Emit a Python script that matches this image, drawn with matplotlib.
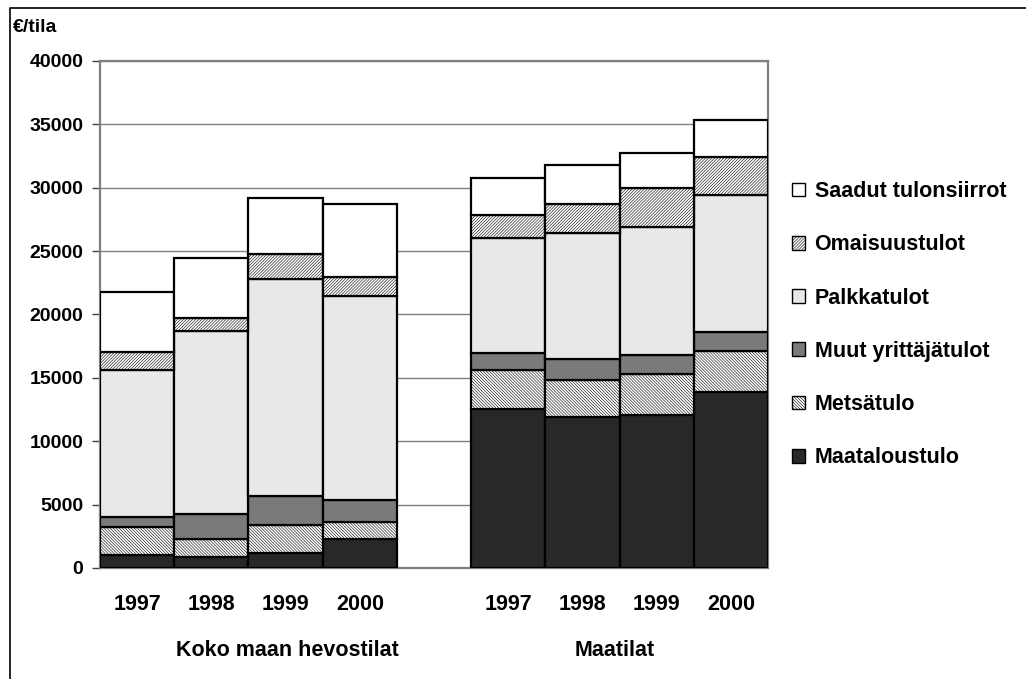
import matplotlib.pyplot as plt
import matplotlib.transforms as mtransforms
from matplotlib.lines import Line2D
from matplotlib.patches import Patch
import numpy as np

plt.rcParams.update(
    {
        "font.family": ["Liberation Sans", "DejaVu Sans"],
        "font.weight": "bold",
        "hatch.linewidth": 0.4,
        "hatch.color": "black",
    }
)

# Income components, EUR per farm, stacked bottom to top
years = ["1997", "1998", "1999", "2000"]
groups = ["Koko maan hevostilat", "Maatilat"]
series = [
    "Maataloustulo",
    "Metsätulo",
    "Muut yrittäjätulot",
    "Palkkatulot",
    "Omaisuustulot",
    "Saadut tulonsiirrot",
]
# hevostilat 1997..2000, then maatilat 1997..2000
maatalous = [1000, 840, 1160, 2290, 12540, 11940, 12070, 13860]
metsa = [2260, 1450, 2230, 1310, 3080, 2890, 3210, 3290]
muut = [790, 1950, 2320, 1770, 1320, 1660, 1530, 1450]
palkka = [11570, 14460, 17070, 16120, 9120, 9920, 10070, 10830]
omaisuus = [1450, 1050, 1970, 1490, 1790, 2290, 3080, 2970]
tulonsiirrot = [4730, 4680, 4420, 5740, 2950, 3100, 2810, 2950]

styles = [
    {"facecolor": "#282828", "hatch": None},
    {"facecolor": "white", "hatch": "\\" * 11},
    {"facecolor": "#7a7a7a", "hatch": None},
    {"facecolor": "#e8e8e8", "hatch": None},
    {"facecolor": "white", "hatch": "/" * 11},
    {"facecolor": "white", "hatch": None},
]

fig = plt.figure(figsize=(10.26, 6.79), dpi=100)
ax = fig.add_axes([0.0975, 0.1635, 0.651, 0.7467])

x = np.array([0, 1, 2, 3, 5, 6, 7, 8])
bottom = np.zeros(len(x))
handles = []
for values, label, st in zip(
    [maatalous, metsa, muut, palkka, omaisuus, tulonsiirrot], series, styles
):
    ax.bar(
        x,
        values,
        width=1.0,
        bottom=bottom,
        facecolor=st["facecolor"],
        hatch=st["hatch"],
        edgecolor="black",
        linewidth=1.6,
        zorder=3,
    )
    bottom += np.array(values)
    handles.append(
        Patch(facecolor=st["facecolor"], hatch=st["hatch"], edgecolor="black",
              linewidth=1.0, label=label)
    )

ax.set_xlim(-0.5, 8.5)
ax.set_ylim(0, 40000)
ax.set_yticks(np.arange(0, 40001, 5000))
ax.yaxis.grid(True, color="#808080", linewidth=1.0, zorder=0)
ax.set_axisbelow(True)
for s in ax.spines.values():
    s.set_color("#808080")
    s.set_linewidth(1.6)
ax.tick_params(axis="y", length=6, width=1.0, color="#404040", pad=6, labelsize=14)
ax.set_xticks(x)
ax.set_xticklabels(years * 2, fontsize=15.5)
ax.tick_params(axis="x", length=0, pad=19)

trans = mtransforms.blended_transform_factory(ax.transData, ax.transAxes)
ax.text(2.02, -0.162, groups[0], transform=trans, ha="center", va="center", fontsize=15.5)
ax.text(6.43, -0.162, groups[1], transform=trans, ha="center", va="center", fontsize=15.5)

fig.text(0.0127, 0.9588, "€/tila", ha="left", va="center", fontsize=14)

fig.legend(
    handles[::-1],
    series[::-1],
    loc="upper left",
    bbox_to_anchor=(0.753, 0.762),
    frameon=False,
    fontsize=15.5,
    handlelength=0.6,
    handleheight=0.6,
    handletextpad=0.45,
    labelspacing=1.5,
)

# outer frame along the top and left edges
fig.add_artist(
    Line2D([10 / 1026, 10 / 1026, 1.0], [0.0, 1 - 7.5 / 679, 1 - 7.5 / 679],
           transform=fig.transFigure, color="black", linewidth=1.2)
)

fig.savefig("out.png", dpi=100)
